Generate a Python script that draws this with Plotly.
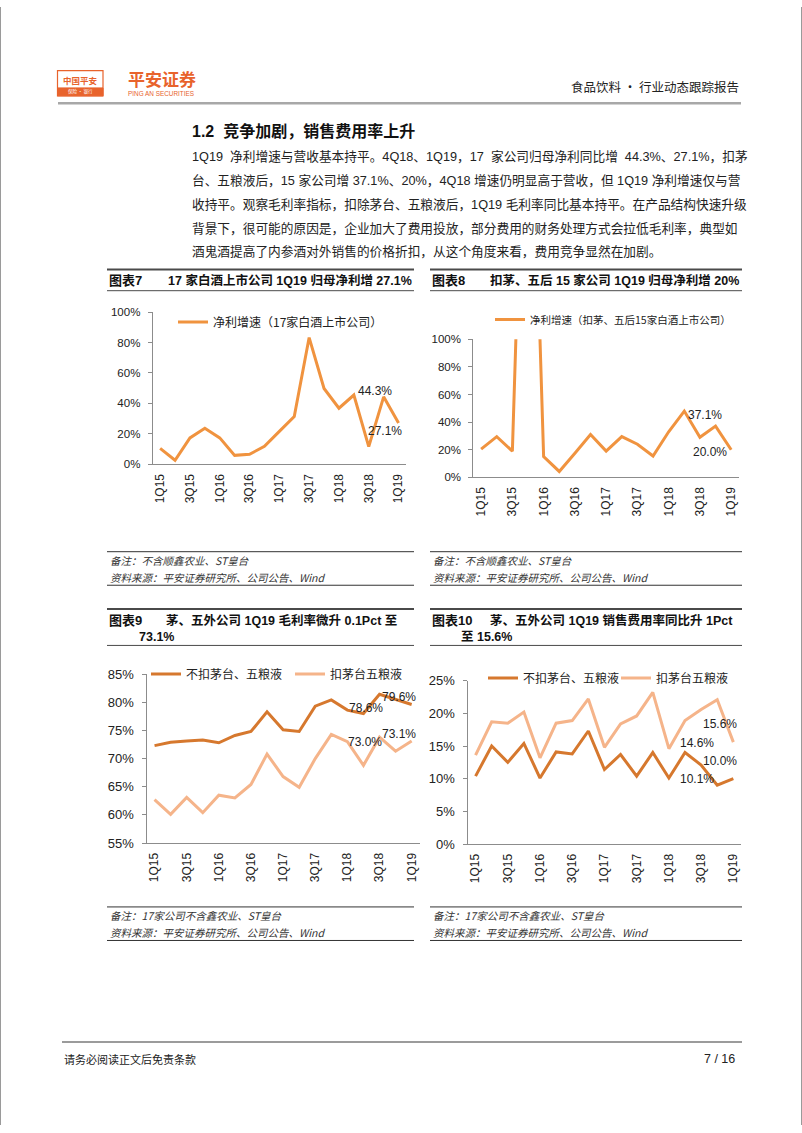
import plotly.graph_objects as go

# ---------------- data ----------------
quarters = ["1Q15", "2Q15", "3Q15", "4Q15", "1Q16", "2Q16", "3Q16", "4Q16",
            "1Q17", "2Q17", "3Q17", "4Q17", "1Q18", "2Q18", "3Q18", "4Q18", "1Q19"]
tick_labels = quarters[::2]

profit17 = [10.4, 2.6, 17.3, 23.6, 17.3, 5.8, 6.5, 11.7, 21.6, 31.4, 83.3, 49.8,
            36.8, 45.5, 11.5, 44.3, 27.1]
profit15 = [20.5, 29.5, 19.0, 380.0, 15.0, 4.3, 17.5, 31.0, 19.0, 29.5, 24.0, 15.5,
            33.0, 48.0, 29.0, 37.1, 20.0]
gm_all = [72.3, 72.9, 73.1, 73.3, 72.8, 74.1, 74.8, 78.3, 75.1, 74.8, 79.3, 80.4,
          78.6, 78.0, 81.4, 80.5, 79.6]
gm_ex = [62.7, 60.1, 63.1, 60.4, 63.5, 63.0, 65.4, 70.8, 66.8, 64.9, 70.0, 74.3,
         73.0, 68.8, 73.8, 71.3, 73.1]
se_all = [10.4, 15.0, 12.5, 15.4, 10.1, 14.1, 13.8, 17.3, 11.4, 13.7, 10.4, 14.0,
          10.1, 14.0, 12.1, 9.0, 10.0]
se_ex = [13.6, 18.7, 18.5, 20.2, 13.2, 18.5, 18.9, 22.2, 14.8, 18.4, 19.6, 23.2,
         14.6, 18.9, 20.6, 22.1, 15.6]

name7 = "净利增速（17家白酒上市公司）"
name8 = "净利增速（扣茅、五后15家白酒上市公司）"
name_all = "不扣茅台、五粮液"
name_ex = "扣茅台五粮液"

# data labels: (subplot, category index, series values, text, xshift, yshift)
labels = [
    (1, 15, profit17, "44.3%", -9, 6),
    (1, 16, profit17, "27.1%", -14, -8),
    (2, 15, profit15, "37.1%", -10.5, 11),
    (2, 16, profit15, "20.0%", -20.7, -2.6),
    (3, 16, gm_all, "79.6%", -12.5, 7),
    (3, 12, gm_all, "78.6%", 18.6, 2.5),
    (3, 12, gm_ex, "73.0%", 18, 0),
    (3, 16, gm_ex, "73.1%", -12.5, 7),
    (4, 16, se_ex, "15.6%", -13.3, 18),
    (4, 12, se_ex, "14.6%", 28, 6),
    (4, 16, se_all, "10.0%", -13.3, 18),
    (4, 12, se_all, "10.1%", 28, -1.3),
]

# ---------------- page geometry ----------------
W, H = 802, 1133


def X(px):
    return px / W


def Y(py):
    return 1 - py / H


ORANGE = "#F0933F"
DARK = "#D6782E"
LIGHT = "#F5B48A"
CJK = "Noto Sans CJK SC"
MIX = "Liberation Sans, Noto Sans CJK SC"
NUM = "Liberation Sans"
AXC = "#8C8C8C"

fig = go.Figure()

fig.add_trace(go.Scatter(x=quarters, y=profit17, mode="lines", name=name7,
                         line=dict(color=ORANGE, width=3), xaxis="x", yaxis="y",
                         legend="legend"))
fig.add_trace(go.Scatter(x=quarters, y=profit15, mode="lines", name=name8,
                         line=dict(color=ORANGE, width=3), xaxis="x2", yaxis="y2",
                         legend="legend2"))
fig.add_trace(go.Scatter(x=quarters, y=gm_all, mode="lines", name=name_all,
                         line=dict(color=DARK, width=3), xaxis="x3", yaxis="y3",
                         legend="legend3"))
fig.add_trace(go.Scatter(x=quarters, y=gm_ex, mode="lines", name=name_ex,
                         line=dict(color=LIGHT, width=3), xaxis="x3", yaxis="y3",
                         legend="legend4"))
fig.add_trace(go.Scatter(x=quarters, y=se_all, mode="lines", name=name_all,
                         line=dict(color=DARK, width=3), xaxis="x4", yaxis="y4",
                         legend="legend5"))
fig.add_trace(go.Scatter(x=quarters, y=se_ex, mode="lines", name=name_ex,
                         line=dict(color=LIGHT, width=3), xaxis="x4", yaxis="y4",
                         legend="legend6"))

# subplot domains in pixels: (x0, x1, ybottom, ytop, yrange, dtick, tickfont size)
subplots = {
    1: (152.7, 406.0, 463.3, 309.3, [0, 100], 20, 11.5),
    2: (473.3, 739.0, 476.7, 336.7, [0, 100], 20, 11.5),
    3: (146.5, 419.7, 847.3, 676.0, [55, 85], 5, 13),
    4: (467.5, 741.4, 848.3, 682.7, [0, 25], 5, 13),
}

layout_axes = {}
for i, (x0, x1, yb, yt, yr, dt, fs) in subplots.items():
    sx = "" if i == 1 else str(i)
    layout_axes["xaxis" + sx] = dict(
        domain=[X(x0), X(x1)], anchor="y" + sx, type="category",
        categoryorder="array", categoryarray=quarters,
        range=[-0.5, len(quarters) - 0.5],
        tickmode="array", tickvals=tick_labels, ticktext=tick_labels,
        tickangle=-90, tickfont=dict(family=NUM, size=12, color="#222"),
        showline=True, linecolor=AXC, linewidth=1, showgrid=False,
        zeroline=False, ticks="", ticklabelstandoff=4, fixedrange=True)
    layout_axes["yaxis" + sx] = dict(
        domain=[Y(yb), Y(yt)], anchor="x" + sx, range=yr, dtick=dt,
        ticksuffix="%", tickfont=dict(family=NUM, size=fs, color="#222"),
        showline=True, linecolor=AXC, linewidth=1, showgrid=False,
        zeroline=False, ticks="outside", ticklen=4, tickcolor=AXC,
        ticklabelstandoff=5, fixedrange=True)


def legend_at(line_x, line_y, size=12):
    return dict(x=X(line_x - 7), y=Y(line_y), xanchor="left", yanchor="middle",
                bgcolor="rgba(0,0,0,0)", borderwidth=0,
                font=dict(family=CJK, size=size, color="#222"))


legends = dict(
    legend=legend_at(180, 319.3),
    legend2=legend_at(497, 316.7, 10.5),
    legend3=legend_at(153, 676),
    legend4=legend_at(297, 676),
    legend5=legend_at(490, 680),
    legend6=legend_at(623, 680),
)

shapes = []
annotations = []


def hline(x0, x1, y, color, width):
    shapes.append(dict(type="line", xref="paper", yref="paper",
                       x0=X(x0), x1=X(x1), y0=Y(y), y1=Y(y),
                       line=dict(color=color, width=width)))


def text(x, y, s, size, color="#222", family=MIX, anchor="left", style="normal"):
    annotations.append(dict(xref="paper", yref="paper", x=X(x), y=Y(y), text=s,
                            showarrow=False, xanchor=anchor, yanchor="middle",
                            font=dict(family=family, size=size, color=color,
                                      style=style)))


# page side borders
shapes.append(dict(type="line", xref="paper", yref="paper", x0=X(0.5), x1=X(0.5),
                   y0=0, y1=1, line=dict(color="#9A9A9A", width=1)))
shapes.append(dict(type="line", xref="paper", yref="paper", x0=X(801.5), x1=X(801.5),
                   y0=0, y1=1, line=dict(color="#9A9A9A", width=1)))

# header logo
LOGO = "#E8632C"
shapes.append(dict(type="rect", xref="paper", yref="paper", x0=X(57.5), x1=X(103),
                   y0=Y(90), y1=Y(64.5), line=dict(color=LOGO, width=1.2),
                   fillcolor="white"))
shapes.append(dict(type="rect", xref="paper", yref="paper", x0=X(57.5), x1=X(103),
                   y0=Y(90), y1=Y(82), line=dict(color=LOGO, width=1),
                   fillcolor=LOGO))
text(80.2, 73.5, "<b>中国平安</b>", 8.5, LOGO, CJK, "center")
text(80.2, 86, "保险 · 银行", 4.5, "white", CJK, "center")
text(126, 72.5, "<b>平安证券</b>", 17, LOGO, CJK)
text(126, 88, "PING AN SECURITIES", 6.4, LOGO, NUM)
text(741, 81, "食品饮料 · 行业动态跟踪报告", 12.5, "#222", CJK, "right")
hline(58, 741, 97.5, "#A8A8A8", 2.5)

# section title and paragraph
text(190, 126, "<b>1.2  竞争加剧，销售费用率上升</b>", 16, "#111")
NB = "\u00a0"
para = [
    "1Q19" + NB * 2 + "净利增速与营收基本持平。4Q18、1Q19，17" + NB * 2 + "家公司归母净利同比增"
    + NB * 2 + "44.3%、27.1%，扣茅",
    "台、五粮液后，15 家公司增 37.1%、20%，4Q18 增速仍明显高于营收，但 1Q19 净利增速仅与营",
    "收持平。观察毛利率指标，扣除茅台、五粮液后，1Q19 毛利率同比基本持平。在产品结构快速升级",
    "背景下，很可能的原因是，企业加大了费用投放，部分费用的财务处理方式会拉低毛利率，典型如",
    "酒鬼酒提高了内参酒对外销售的价格折扣，从这个角度来看，费用竞争显然在加剧。",
]
for k, line in enumerate(para):
    text(190, 152 + 24 * k, line, 12.7, "#222")

# chart title bars
TB = "#4A4A4A"
TS = 12.5
for (x0, x1) in [(107, 414), (430, 742)]:
    hline(x0, x1, 266, TB, 2)
    hline(x0, x1, 287.5, TB, 1)
text(107, 277, "<b>图表7</b>", 13, "#111")
text(166, 277, "<b>17 家白酒上市公司 1Q19 归母净利增 27.1%</b>", TS, "#111")
text(430, 277, "<b>图表8</b>", 13, "#111")
text(488, 277, "<b>扣茅、五后 15 家公司 1Q19 归母净利增 20%</b>", TS, "#111")

for (x0, x1) in [(107, 414), (430, 742)]:
    hline(x0, x1, 610, TB, 2)
    hline(x0, x1, 647, TB, 1)
text(107, 621.5, "<b>图表9</b>", 13, "#111")
text(164, 621.5, "<b>茅、五外公司 1Q19 毛利率微升 0.1Pct 至</b>", TS, "#111")
text(137, 638, "<b>73.1%</b>", TS, "#111")
text(430, 621.5, "<b>图表10</b>", 13, "#111")
text(488, 621.5, "<b>茅、五外公司 1Q19 销售费用率同比升 1Pct</b>", TS, "#111")
text(459, 638, "<b>至 15.6%</b>", TS, "#111")

# footnotes
FN = "#333"
for (x0, x1) in [(107, 414), (430, 742)]:
    hline(x0, x1, 552, "#333", 1)
    hline(x0, x1, 586, "#333", 1)
    hline(x0, x1, 912, "#333", 1)
    hline(x0, x1, 946, "#333", 1)
for xx in [108, 431]:
    text(xx, 560.5, "备注：不含顺鑫农业、ST皇台", 10.5, FN, CJK, style="italic")
    text(xx, 578, "资料来源：平安证券研究所、公司公告、Wind", 10.5, FN, CJK, style="italic")
    text(xx, 920.5, "备注：17家公司不含鑫农业、ST皇台", 10.5, FN, CJK, style="italic")
    text(xx, 938, "资料来源：平安证券研究所、公司公告、Wind", 10.5, FN, CJK, style="italic")

# footer
hline(62, 742, 1049, "#7A7A7A", 1.5)
text(62, 1066, "请务必阅读正文后免责条款", 11, "#222", CJK)
text(737, 1066, "7 / 16", 12.5, "#222", NUM, "right")

# data labels through the axes
for sp, idx, series, s, dx, dy in labels:
    sx = "" if sp == 1 else str(sp)
    annotations.append(dict(xref="x" + sx, yref="y" + sx, x=quarters[idx],
                            y=series[idx], text=s, showarrow=False,
                            xshift=dx, yshift=dy, xanchor="center", yanchor="middle",
                            font=dict(family=NUM, size=12, color="#222")))

fig.update_layout(
    width=W, height=H, margin=dict(l=0, r=0, t=0, b=0),
    paper_bgcolor="white", plot_bgcolor="rgba(0,0,0,0)",
    showlegend=True, shapes=shapes, annotations=annotations,
    hovermode=False,
    **layout_axes, **legends,
)

fig.write_html("out.html",
               config={"displayModeBar": False, "staticPlot": True},
               post_script="document.body.style.margin='0';document.body.style.overflow='hidden';")
